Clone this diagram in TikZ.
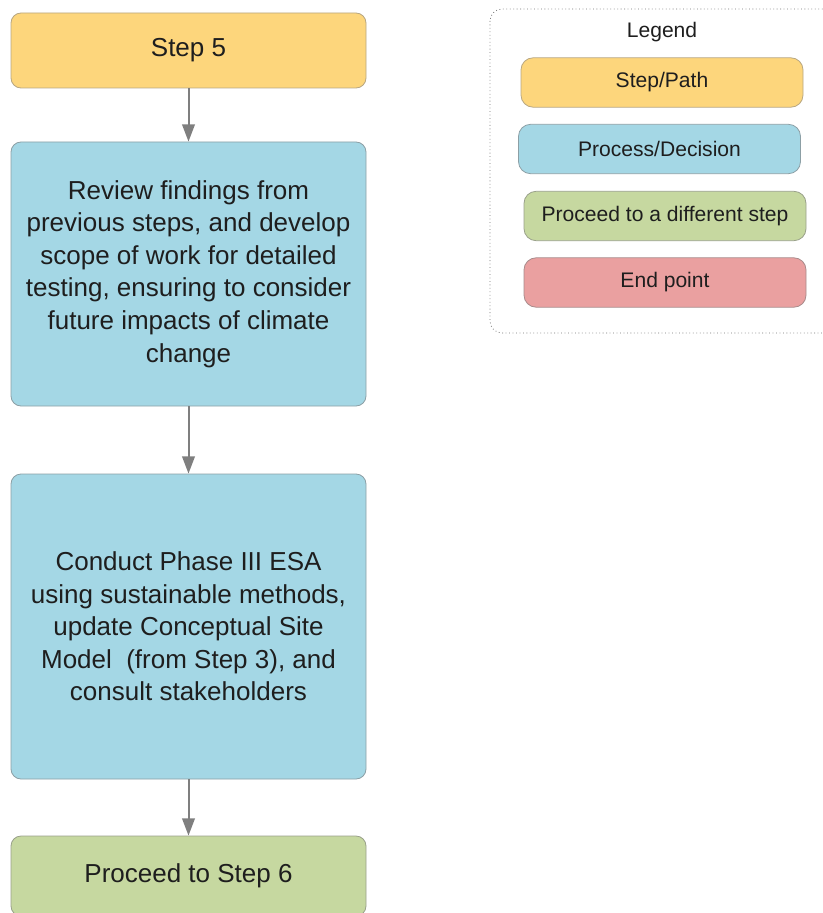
\documentclass[tikz,border=0pt]{standalone}
\usepackage{fontspec}
\setmainfont{Liberation Sans}
\usepackage{tikz}
\usetikzlibrary{arrows.meta}
\definecolor{stepyellow}{HTML}{FDD67C}
\definecolor{procblue}{HTML}{A4D7E5}
\definecolor{gogreen}{HTML}{C6D8A0}
\definecolor{endred}{HTML}{EAA0A0}
\definecolor{linegray}{HTML}{7F7F7F}
\definecolor{inkgray}{HTML}{1E1E1E}

\begin{document}
\begin{tikzpicture}[x=0.75pt, y=-0.75pt,
		flowbox/.style={rounded corners=7.5pt, line width=0.6pt, align=center, text=inkgray,
			minimum width=266.25pt, font=\fontsize{19.5}{24.4}\selectfont},
		keybox/.style={rounded corners=9pt, line width=0.6pt, text=inkgray,
			minimum width=211.5pt, minimum height=37pt, font=\fontsize{15.8}{18}\selectfont},
		flowarrow/.style={-{Triangle[width=9.5pt, length=13pt]}, line width=1.5pt, color=linegray}]
		%%%%% START %%%%%
		
		\useasboundingbox (0, 0) rectangle (823, 913);
		\clip (0, 0) rectangle (823, 913);
		
		\node[flowbox, fill=stepyellow, draw=stepyellow!60!black!70, minimum height=56.25pt] (step5) at (188.5, 50.5) {Step 5};
		
		\node[flowbox, fill=procblue, draw=procblue!55!black!70, minimum height=198pt] (review) at (188.5, 274)
			{Review findings from\\previous steps, and develop\\scope of work for detailed\\testing, ensuring to consider\\future impacts of climate\\change};
		
		\node[flowbox, fill=procblue, draw=procblue!55!black!70, minimum height=228.75pt] (phase3) at (188.5, 626.5)
			{Conduct Phase III ESA\\using sustainable methods,\\update Conceptual Site\\Model\ \ (from Step 3), and\\consult stakeholders};
		
		\node[flowbox, fill=gogreen, draw=gogreen!55!black!70, minimum height=60pt] (step6) at (188.5, 876) {Proceed to Step 6};
		
		\draw[flowarrow] (step5) -- (review);
		\draw[flowarrow] (review) -- (phase3);
		\draw[flowarrow] (phase3) -- (step6);
		
		%%%%% LEGEND %%%%%
		
		\draw[line width=0.6pt, color=black!55, dotted, rounded corners=9pt] (490, 9) rectangle (835, 333);
		\node[text=inkgray, font=\fontsize{15.8}{18}\selectfont] (legend) at (662, 32) {Legend};
		
		\node[keybox, fill=stepyellow, draw=stepyellow!60!black!70] (keystep) at (662, 82.5) {Step/Path};
		\node[keybox, fill=procblue, draw=procblue!55!black!70] (keyproc) at (659.5, 149) {Process/Decision};
		\node[keybox, fill=gogreen, draw=gogreen!55!black!70] (keygo) at (665, 216) {Proceed to a different step};
		\node[keybox, fill=endred, draw=endred!55!black!70] (keyend) at (665, 282.5) {End point};
		
		%%%%% END %%%%%
	\end{tikzpicture}
\end{document}
